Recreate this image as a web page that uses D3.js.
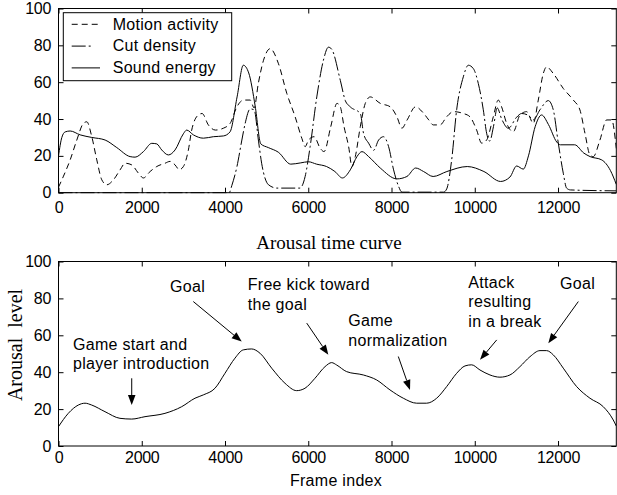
<!DOCTYPE html>
<html>
<head>
<meta charset="utf-8">
<script src="https://cdn.jsdelivr.net/npm/d3@7"></script>
<style>
  html, body { margin: 0; padding: 0; background: #fff; }
  svg { display: block; }
  text { fill: #000; }
</style>
</head>
<body>
<svg id="chart" width="617" height="495"></svg>
<script>
// ---------- data ----------
const frameTicks = [0, 2000, 4000, 6000, 8000, 10000, 12000];
const levelTicks = [0, 20, 40, 60, 80, 100];

const seriesNames = ["Motion activity", "Cut density", "Sound energy"];

const motionFrames = [0, 120, 280, 440, 600, 680, 800, 920, 1040, 1160, 1320, 1480, 1600, 1760, 1920, 2040,
  2200, 2360, 2560, 2680, 2800, 2900, 3000, 3120, 3200, 3360, 3450, 3600, 3770, 3960, 4125, 4285, 4445,
  4605, 4700, 4800, 4925, 5085, 5285, 5485, 5685, 5846, 5926, 6006, 6140, 6290, 6380, 6540, 6690, 6770,
  6860, 6970, 7050, 7130, 7250, 7370, 7490, 7730, 7970, 8130, 8250, 8375, 8575, 8775, 8895, 9003, 9165,
  9325, 9485, 9725, 9885, 10045, 10165, 10285, 10445, 10565, 10645, 10765, 10925, 11086, 11246, 11406,
  11526, 11646, 11726, 11886, 12126, 12367, 12527, 12647, 12767, 12847, 13007, 13168, 13288, 13400];
const motionValues = [3, 9, 17.8, 28.6, 37.7, 38.5, 30.4, 17.8, 7, 4.3, 7, 12.4, 16, 15.1, 10.6, 8,
  11.5, 14.2, 16, 17, 15.1, 12.5, 14.2, 23.2, 34, 42.2, 43, 36.8, 34, 35, 37.7, 46.6, 50.3,
  50.3, 46, 59.3, 71.9, 78.2, 70, 53.9, 41.2, 29.5, 25, 28.6, 30.4, 24, 22.3, 35.8, 48.5, 46.6,
  35.8, 25, 14.2, 19.6, 35.8, 48.5, 52, 48.5, 46.6, 41.2, 35, 39.5, 46.6, 43, 39.5, 36.8, 36.8,
  41.2, 44, 43, 41.2, 34, 26.9, 28.6, 41.2, 50.3, 46.6, 37.7, 33.1, 42.2, 44, 37.7,
  50.3, 64.7, 68.3, 64.7, 56.6, 50.3, 44.9, 32.3, 20.5, 19.6, 28.6, 39.5, 39.5, 24];

const cutFrames = [0, 4100, 4165, 4285, 4405, 4485, 4605, 4700, 4805, 4880, 5045, 5245, 5800, 5925, 6045,
  6205, 6365, 6485, 6560, 6770, 6890, 7010, 7250, 7330, 7450, 7570, 7690, 7810, 7930, 8050, 8170, 8250,
  9250, 9325, 9445, 9565, 9725, 9845, 9965, 10085, 10205, 10285, 10360, 10450, 10540, 10646, 10806,
  11006, 11126, 11286, 11406, 11566, 11766, 11886, 12006, 12126, 12206, 12300, 13400];
const cutValues = [0, 0, 4, 14, 28.6, 37.7, 45.5, 45, 28, 16, 4.3, 2.5, 2.5, 8.8, 25,
  52, 72, 79, 78, 61, 50, 46.6, 43, 32, 26.9, 23, 28.6, 30.4, 25, 12.4, 3.4, 0.3,
  0.3, 2, 17.8, 45, 62.9, 69.2, 67.4, 59.3, 45, 32.3, 28, 36, 46, 40, 35,
  41, 43, 42, 39.5, 45, 50, 45, 27, 10.6, 2.5, 1.5, 1];

const soundFrames = [0, 80, 160, 280, 520, 800, 1120, 1400, 1720, 1840, 2040, 2240, 2360, 2480, 2640, 2800,
  3000, 3080, 3240, 3480, 3720, 3960, 4120, 4290, 4440, 4570, 4725, 4860, 5040, 5280, 5580, 5820, 6000,
  6200, 6440, 6640, 6820, 7010, 7170, 7290, 7450, 7730, 8130, 8370, 8580, 8770, 9000, 9330, 9820, 10220,
  10620, 10845, 11006, 11166, 11290, 11450, 11606, 11770, 11970, 12060, 12400, 12620, 12770, 13050,
  13260, 13400];
const soundValues = [20, 30, 33, 33.5, 31.4, 30, 28.6, 24.5, 19.6, 19.3, 22.3, 26.8, 26.5, 23.2, 20.5, 23.2,
  32, 34, 31.4, 29.6, 30.4, 30.8, 33, 52, 69.2, 65, 47, 26.5, 24.5, 22, 15.5, 16.2, 16.8,
  15.5, 14.2, 11.5, 8, 12.4, 19.6, 22.3, 19.6, 13.4, 7.5, 8.8, 13.4, 11.5, 8.8, 11.5, 14.2, 11.5,
  6.1, 8.5, 14.5, 12.8, 20, 35.8, 42.2, 37, 27.5, 26, 26, 21.5, 19.6, 17.8,
  12, 4.5];

const arousalFrames = [0, 235, 476, 637, 797, 1117, 1477, 1758, 2078, 2558, 2959, 3279, 3479, 3759, 3999,
  4239, 4439, 4640, 4840, 5121, 5441, 5721, 5921, 6161, 6402, 6562, 6682, 6922, 7322, 7643, 7963, 8283,
  8604, 8844, 9085, 9325, 9565, 9765, 9925, 10125, 10365, 10605, 10845, 11085, 11326, 11566, 11726,
  11886, 12126, 12447, 12767, 13087, 13327, 13400];
const arousalValues = [10.5, 17.7, 22.2, 23.2, 22.2, 18.6, 15, 14.6, 15.9, 17.7, 21.3, 25.9, 27.7, 31.3, 39.4,
  47.6, 52.1, 52.6, 50.3, 42.2, 34, 30, 31.3, 36.7, 43, 45.2, 43.9, 40.3, 38.5, 35.8, 30.4, 25.9,
  23.2, 23.2, 25.9, 32.2, 39.4, 43.4, 44, 41.2, 38.5, 37.3, 38.5, 43, 48.4, 51.7, 51.7,
  49.4, 42.2, 32.2, 25.9, 21.3, 14.1, 10.8];

// event labels on the arousal curve: text anchor, arrow tail and arrow tip in (frame, level)
const eventLabels = [
  { lines: ["Game start and", "player introduction"], at: [348, 52.1], tail: [1759, 36.7], tip: [1759, 22.2] },
  { lines: ["Goal"], at: [2679, 83.3], tail: [3238, 78.3], tip: [4401, 56.6] },
  { lines: ["Free kick toward", "the goal"], at: [4545, 84.3], tail: [5963, 66.6], tip: [6482, 49.4] },
  { lines: ["Game", "normalization"], at: [6962, 64.9], tail: [8163, 48.5], tip: [8444, 30.4] },
  { lines: ["Attack", "resulting", "in a break"], at: [9845, 85.6], tail: [10527, 57.5], tip: [10126, 46.7] },
  { lines: ["Goal"], at: [12048, 85.0], tail: [12488, 78.3], tip: [11767, 55.7] }
];

// ---------- layout ----------
const SANS = "'Liberation Sans', Arial, Helvetica, sans-serif";
const SERIF = "'Liberation Serif', 'Times New Roman', Times, serif";
const svg = d3.select("#chart");

const xLeft = 58.5, xRight = 616.3;
const x = d3.scaleLinear().domain([0, 13400]).range([xLeft, xRight]);
const yTop = d3.scaleLinear().domain([0, 100]).range([192.7, 8.5]);
const yBot = d3.scaleLinear().domain([0, 100]).range([446, 261.5]);
const fmt = d3.format("d");

function drawFrame(y, labelPad, clipId) {
  const g = svg.append("g");
  const y0 = y(0), y1 = y(100);

  const styleAxis = sel => {
    sel.select(".domain").remove();
    sel.attr("font-family", SANS).attr("font-size", 16).style("letter-spacing", "-0.3px");
    sel.selectAll(".tick line").attr("stroke", "#000");
  };

  g.append("g").attr("transform", `translate(0,${y0})`)
    .call(d3.axisBottom(x).tickValues(frameTicks).tickFormat(fmt)
      .tickSizeInner(-5).tickSizeOuter(0).tickPadding(labelPad))
    .call(styleAxis);
  g.append("g").attr("transform", `translate(0,${y1})`)
    .call(d3.axisTop(x).tickValues(frameTicks).tickSizeInner(-5).tickSizeOuter(0).tickFormat(""))
    .call(styleAxis);
  g.append("g").attr("transform", `translate(${xLeft},0)`)
    .call(d3.axisLeft(y).tickValues(levelTicks).tickFormat(fmt)
      .tickSizeInner(-5).tickSizeOuter(0).tickPadding(7.5))
    .call(styleAxis);
  g.append("g").attr("transform", `translate(${xRight},0)`)
    .call(d3.axisRight(y).tickValues(levelTicks).tickSizeInner(-5).tickSizeOuter(0).tickFormat(""))
    .call(styleAxis);

  g.append("rect")
    .attr("x", xLeft).attr("y", y1)
    .attr("width", xRight - xLeft).attr("height", y0 - y1)
    .attr("fill", "none").attr("stroke", "#000").attr("stroke-width", 1);

  svg.append("clipPath").attr("id", clipId)
    .append("rect").attr("x", xLeft).attr("y", y1 - 1)
    .attr("width", xRight - xLeft).attr("height", y0 - y1 + 2);
}

drawFrame(yTop, 9.2, "clipTop");
drawFrame(yBot, 5.4, "clipBot");

// ---------- top panel: feature curves ----------
const lineTop = d3.line().x(d => x(d[0])).y(d => yTop(d[1])).curve(d3.curveMonotoneX);
const dashes = ["6,4", "14,3,2,3", null];
const seriesData = [
  d3.zip(motionFrames, motionValues),
  d3.zip(cutFrames, cutValues),
  d3.zip(soundFrames, soundValues)
];

const gTop = svg.append("g").attr("clip-path", "url(#clipTop)");
seriesData.forEach((pts, i) => {
  gTop.append("path")
    .attr("d", lineTop(pts))
    .attr("fill", "none")
    .attr("stroke", "#000")
    .attr("stroke-width", 1)
    .attr("stroke-dasharray", dashes[i]);
});

// legend
const legend = svg.append("g");
legend.append("rect")
  .attr("x", 63.3).attr("y", 12.7).attr("width", 168.4).attr("height", 68)
  .attr("fill", "#fff").attr("stroke", "#000").attr("stroke-width", 1);
const sampleEnd = [98.3, 91.7, 100];
seriesNames.forEach((name, i) => {
  const ry = 24.3 + i * 21.8;
  legend.append("line")
    .attr("x1", 71.7).attr("x2", sampleEnd[i]).attr("y1", ry).attr("y2", ry)
    .attr("stroke", "#000").attr("stroke-width", 1)
    .attr("stroke-dasharray", dashes[i]);
  legend.append("text")
    .attr("x", 112.7).attr("y", ry + 5.2)
    .attr("font-family", SANS).attr("font-size", 16)
    .style("letter-spacing", "0.3px")
    .text(name);
});

// ---------- bottom panel: arousal curve ----------
const lineBot = d3.line().x(d => x(d[0])).y(d => yBot(d[1])).curve(d3.curveMonotoneX);
svg.append("g").attr("clip-path", "url(#clipBot)")
  .append("path")
  .attr("d", lineBot(d3.zip(arousalFrames, arousalValues)))
  .attr("fill", "none").attr("stroke", "#000").attr("stroke-width", 1);

// titles
svg.append("text")
  .attr("x", 329).attr("y", 249)
  .attr("text-anchor", "middle")
  .attr("font-family", SERIF).attr("font-size", 19)
  .text("Arousal time curve");

svg.append("text")
  .attr("transform", `translate(21.5,345) rotate(-90)`)
  .attr("text-anchor", "middle")
  .attr("font-family", SERIF).attr("font-size", 20)
  .style("white-space", "pre")
  .text("Arousal  level");

svg.append("text")
  .attr("x", 336).attr("y", 486)
  .attr("text-anchor", "middle")
  .attr("font-family", SANS).attr("font-size", 16)
  .style("letter-spacing", "0.3px")
  .text("Frame index");

// event annotations with arrows
const gAnn = svg.append("g");
eventLabels.forEach(ev => {
  const t = gAnn.append("text")
    .attr("font-family", SANS).attr("font-size", 16)
    .style("letter-spacing", "0.3px");
  ev.lines.forEach((ln, k) => {
    t.append("tspan")
      .attr("x", x(ev.at[0]))
      .attr("y", yBot(ev.at[1]) + k * 19.3)
      .text(ln);
  });

  const x1 = x(ev.tail[0]), y1 = yBot(ev.tail[1]);
  const x2 = x(ev.tip[0]), y2 = yBot(ev.tip[1]);
  const ang = Math.atan2(y2 - y1, x2 - x1);
  const L = 10, hw = 3.8;
  const bx = x2 - L * Math.cos(ang), by = y2 - L * Math.sin(ang);
  const px = -Math.sin(ang) * hw, py = Math.cos(ang) * hw;
  gAnn.append("line")
    .attr("x1", x1).attr("y1", y1).attr("x2", bx).attr("y2", by)
    .attr("stroke", "#000").attr("stroke-width", 1);
  gAnn.append("path")
    .attr("d", `M${x2},${y2}L${bx + px},${by + py}L${bx - px},${by - py}Z`)
    .attr("fill", "#000");
});
</script>
</body>
</html>
